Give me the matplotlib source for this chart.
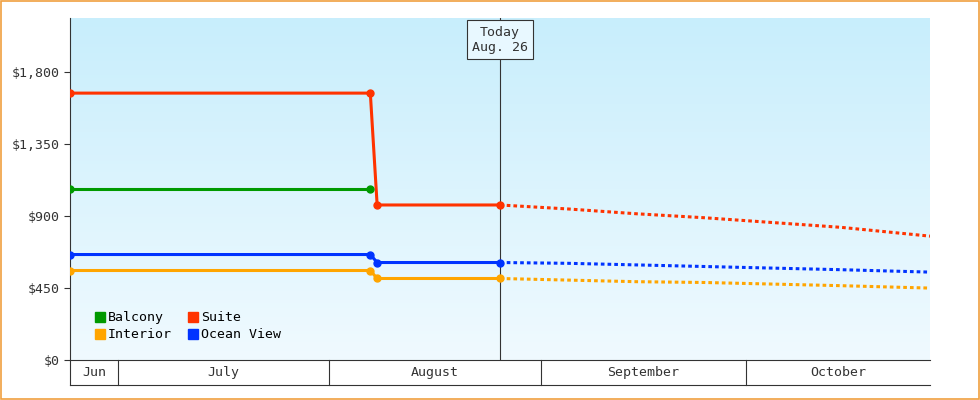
import matplotlib
matplotlib.use("Agg")
import matplotlib.pyplot as plt
import matplotlib.dates as mdates
import numpy as np

hist_dates = ["2023-06-24", "2023-08-07", "2023-08-08", "2023-08-26"]
suite = [1670, 1670, 970, 970]
ocean = [660, 660, 610, 610]
interior = [560, 560, 510, 510]
balcony_dates = ["2023-06-24", "2023-08-07"]
balcony = [1070, 1070]

fc_dates = ["2023-08-26", "2023-09-05", "2023-09-15", "2023-09-25", "2023-10-05", "2023-10-15", "2023-10-28"]
suite_fc = [970, 945, 915, 890, 860, 830, 775]
ocean_fc = [610, 605, 595, 585, 575, 565, 550]
interior_fc = [510, 500, 490, 485, 475, 465, 450]

months = ["Jun", "July", "August", "September", "October"]
month_edges = ["2023-06-24", "2023-07-01", "2023-08-01", "2023-09-01", "2023-10-01", "2023-10-28"]
yticks = [0, 450, 900, 1350, 1800]
today = "2023-08-26"

def d(s):
    return mdates.date2num(np.datetime64(s))

plt.rcParams['font.family'] = ['DejaVu Sans Mono']
fig = plt.figure(figsize=(9.8, 4), dpi=100)
fig.patch.set_facecolor('white')
fig.patches.append(matplotlib.patches.Rectangle((0.001, 0.002), 0.998, 0.996, transform=fig.transFigure,
                                                fill=False, edgecolor='#f0a040', lw=1.2))
ax = fig.add_axes([70/980, 40/400, 860/980, 342/400])
x0, x1 = d(month_edges[0]), d(month_edges[-1])
ax.set_xlim(x0, x1)
ax.set_ylim(0, 2140)
grad = np.linspace(0, 1, 256).reshape(-1, 1)
cmap = matplotlib.colors.LinearSegmentedColormap.from_list('g', ['#f0faff', '#c8eefc'])
ax.imshow(grad, aspect='auto', cmap=cmap, origin='lower', extent=[x0, x1, 0, 2140], zorder=0)

hx = [d(s) for s in hist_dates]
fx = [d(s) for s in fc_dates]
bx = [d(s) for s in balcony_dates]
ax.plot(hx, suite, color='#ff3300', lw=2.2, marker='o', ms=5, zorder=3)
ax.plot(hx, ocean, color='#0033ff', lw=2.2, marker='o', ms=5, zorder=3)
ax.plot(hx, interior, color='#ffa500', lw=2.2, marker='o', ms=5, zorder=3)
ax.plot(bx, balcony, color='#009900', lw=2.2, marker='o', ms=5, zorder=3)
for vals, c in [(suite_fc, '#ff3300'), (ocean_fc, '#0033ff'), (interior_fc, '#ffa500')]:
    ax.plot(fx, vals, color=c, lw=2.2, ls=(0, (1.2, 1)), zorder=3)

tx = d(today)
ax.axvline(tx, color='#333333', lw=0.8, zorder=2)
ax.text(tx, 2005, "Today\nAug. 26", ha='center', va='center', fontsize=9.5, color='#333',
        bbox=dict(boxstyle='square,pad=0.4', fc='#e8f8ff', ec='#333', lw=0.8), zorder=4)

ax.set_yticks(yticks)
ax.set_yticklabels([f"${v:,}" for v in yticks], fontsize=9.5, color='#333')
ax.set_xticks([])
for s in ['top', 'right']:
    ax.spines[s].set_visible(False)
ax.spines['left'].set_color('#333')
ax.spines['bottom'].set_color('#333')
ax.tick_params(axis='y', length=4, color='#333')

band = fig.add_axes([70/980, 15/400, 860/980, 25/400])
band.set_xlim(x0, x1); band.set_ylim(0, 1)
band.axis('off')
band.plot([x0, x1], [0, 0], color='#333', lw=0.8, clip_on=False)
edges = [d(s) for s in month_edges]
for i, m in enumerate(months):
    band.text((edges[i] + edges[i+1]) / 2, 0.5, m, ha='center', va='center', fontsize=9.5, color='#333')
for e in edges[:-1]:
    band.plot([e, e], [0, 1], color='#333', lw=0.8, clip_on=False)

from matplotlib.patches import Patch
handles = [Patch(color='#009900'), Patch(color='#ffa500'), Patch(color='#ff3300'), Patch(color='#0033ff')]
ax.legend(handles, ["Balcony", "Interior", "Suite", "Ocean View"], ncol=2, loc='lower left',
          bbox_to_anchor=(0.015, 0.02), frameon=False, fontsize=9.5, handlelength=0.8,
          handleheight=0.8, handletextpad=0.2, columnspacing=1.2, labelspacing=0.3)
fig.savefig("out.png", dpi=100)
